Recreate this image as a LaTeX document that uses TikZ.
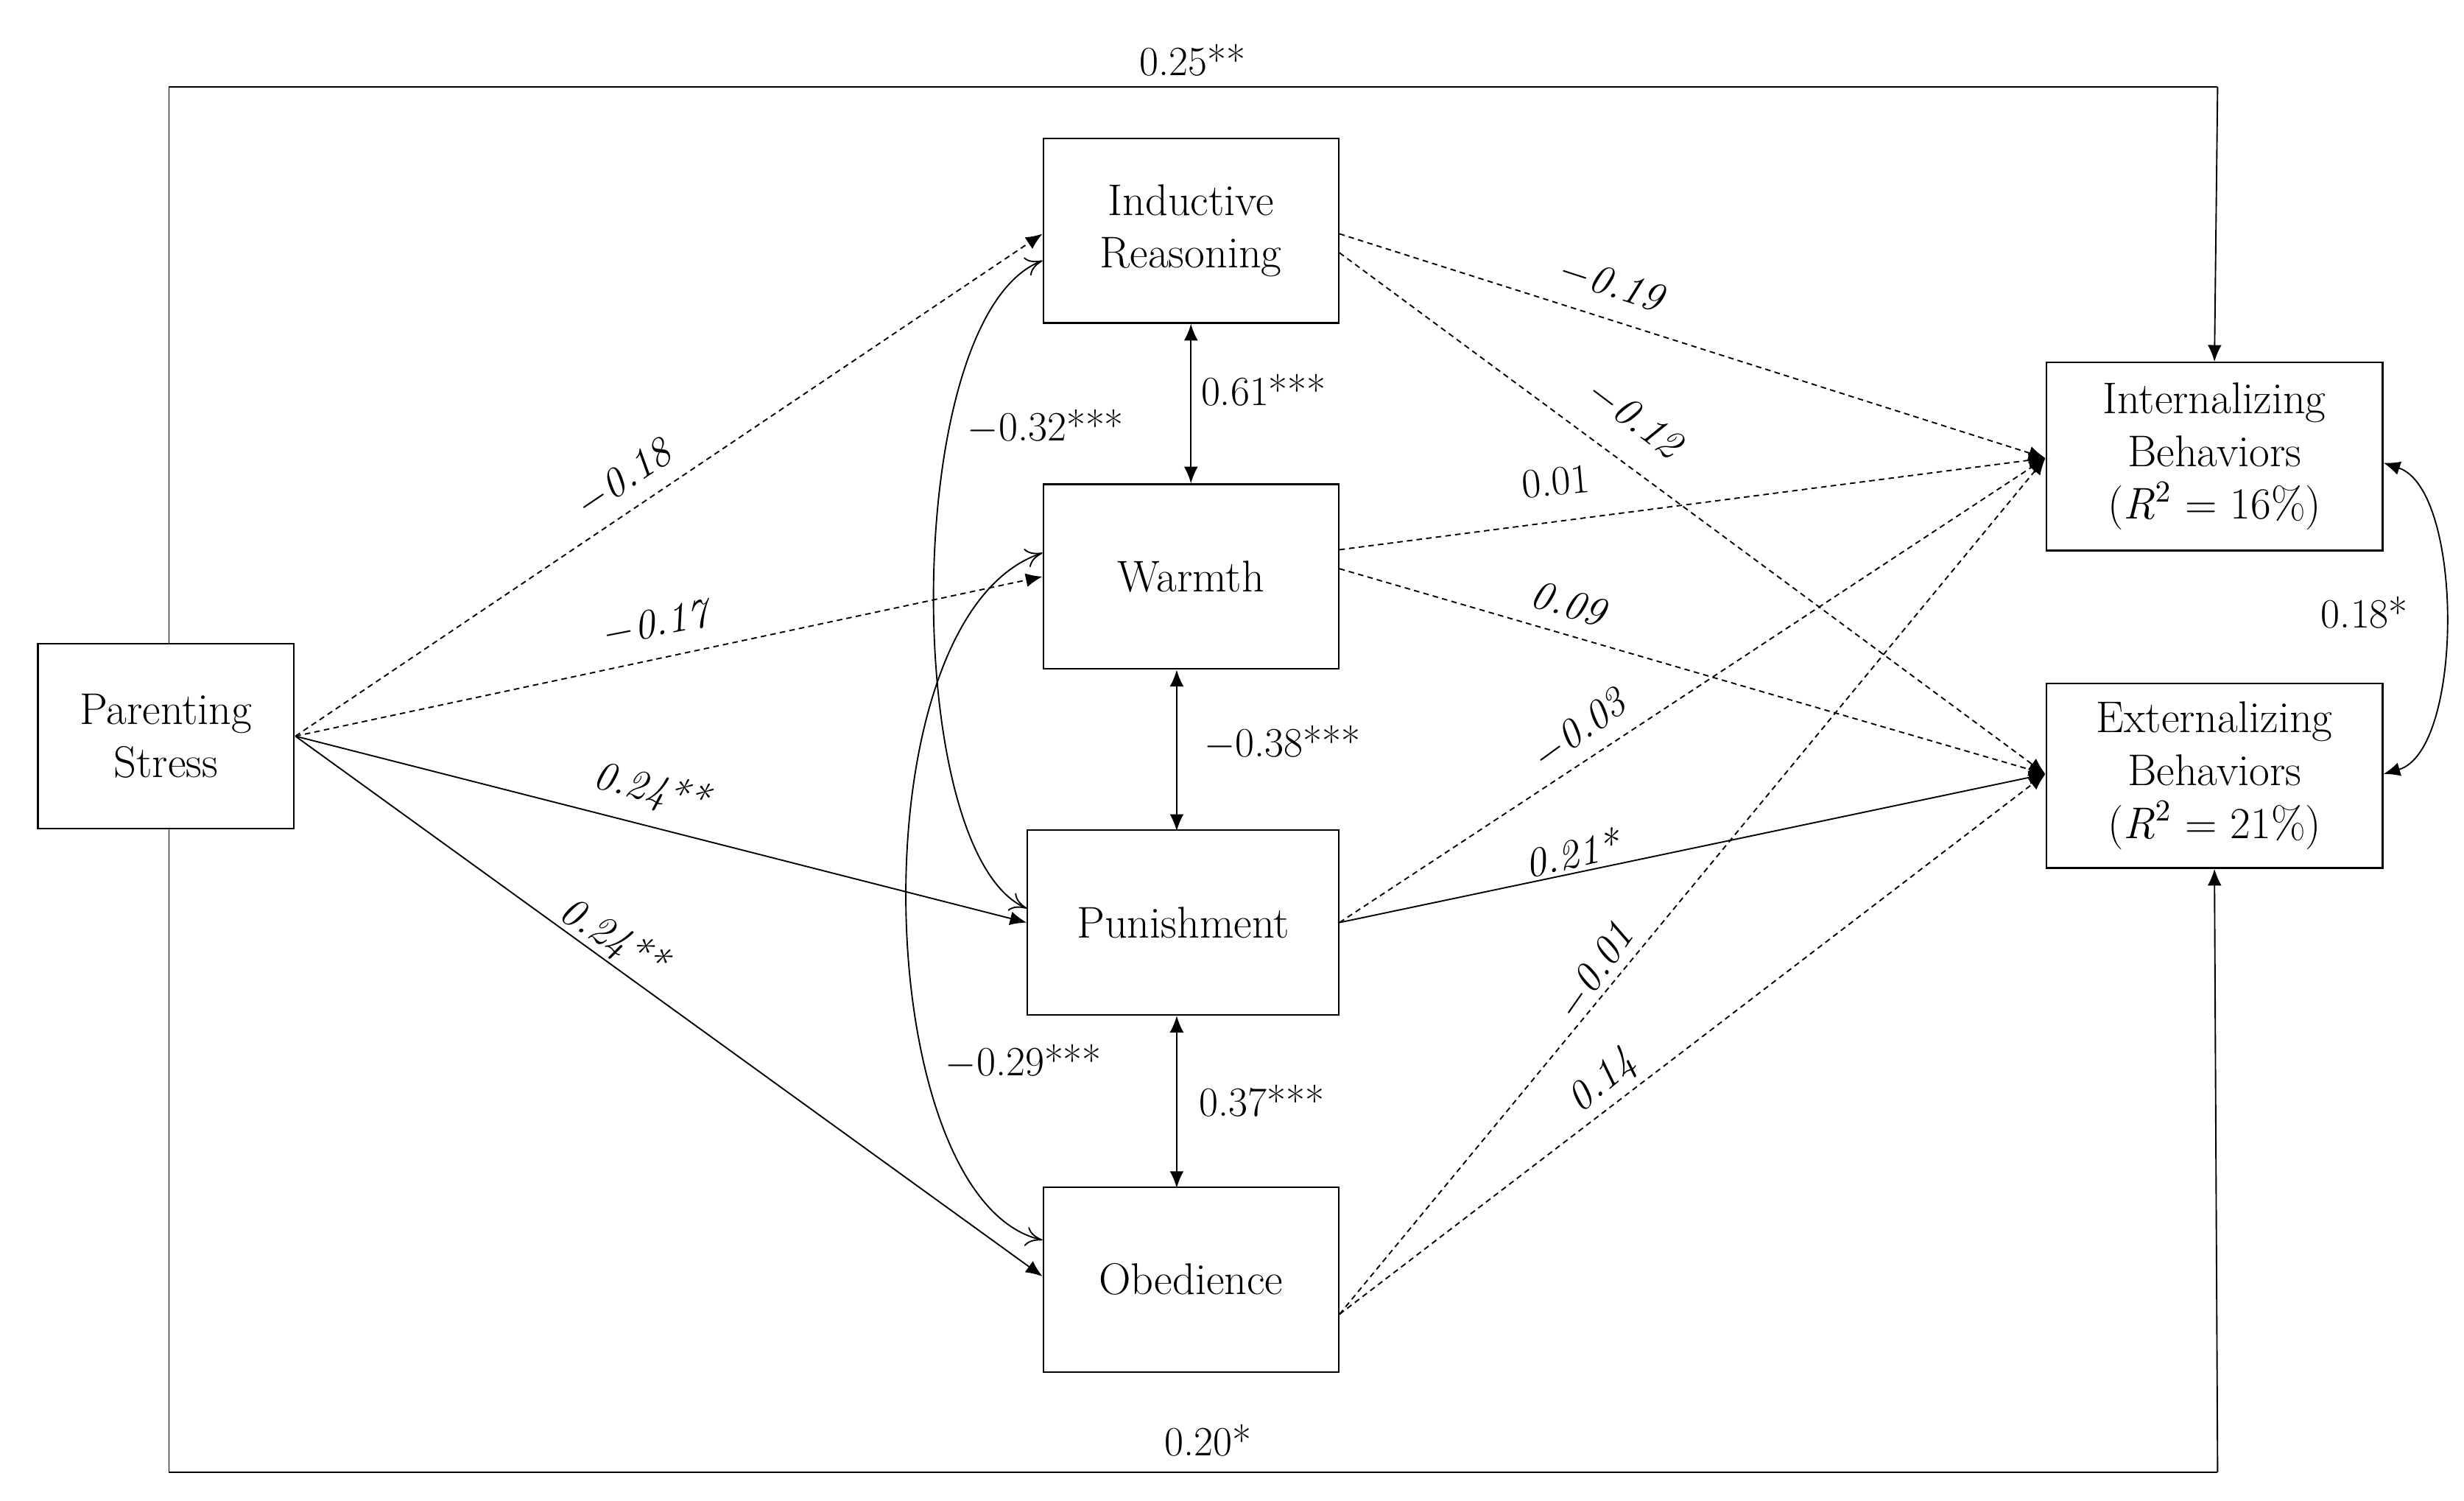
\documentclass[tikz,border=0pt]{standalone}
\usetikzlibrary{arrows.meta}
\begin{document}
\begin{tikzpicture}[x=0.02cm,y=-0.02cm,
  box/.style={draw,line width=0.6pt,minimum width=3.74cm,minimum height=2.34cm,align=center,font=\fontsize{16}{19}\selectfont,fill=white,inner sep=1pt},
  lab/.style={font=\fontsize{15}{17}\selectfont},
  ilab/.style={font=\fontsize{15}{17}\selectfont\itshape},
  ln/.style={line width=0.5pt},
  dsh/.style={line width=0.5pt,dash pattern=on 2pt off 1.5pt},
  tip/.style={-{Latex[length=6pt,width=5pt]}},
  dtip/.style={{Latex[length=6pt,width=5pt]}-{Latex[length=6pt,width=5pt]}},
  otip/.style={{To[length=6pt,width=7pt]}-{To[length=6pt,width=7pt]}}]
\useasboundingbox (0,0) rectangle (1560,950);
\coordinate (tl) at (107,55); \coordinate (tr) at (1404,55);
\coordinate (bl) at (107,932); \coordinate (br) at (1404,932);
\node[box,minimum width=3.24cm] (ps) at (105,466) {Parenting\\Stress};
\node[box] (ir) at (754,146) {Inductive\\Reasoning};
\node[box] (wa) at (754,365) {Warmth};
\node[box,minimum width=3.94cm] (pu) at (749,584) {Punishment};
\node[box] (ob) at (754,810) {Obedience};
\node[box,minimum width=4.26cm,minimum height=2.38cm] (in) at (1402,289) {Internalizing\\Behaviors\\(\textit{R}$^2$ = 16\%)};
\node[box,minimum width=4.26cm,minimum height=2.34cm] (ex) at (1402,491) {Externalizing\\Behaviors\\(\textit{R}$^2$ = 21\%)};
\draw[ln] (ps.north -| tl) -- (tl) -- (tr);
\draw[ln,tip] (tr) -- (in.north);
\draw[ln] (ps.south -| bl) -- (bl) -- (br);
\draw[ln,tip] (br) -- (ex.south);
\node[lab] at (755,38) {0.25**};
\node[lab] at (765,912) {0.20*};
\coordinate (psr) at (187,466);
\draw[dsh,tip] (psr) -- (660,148);
\draw[dsh,tip] (psr) -- (660,365);
\draw[ln,tip] (psr) -- (650,584);
\draw[ln,tip] (psr) -- (660,808);
\node[ilab,rotate=34] at (395,303) {$-$0.18};
\node[ilab,rotate=11] at (415,395) {$-$0.17};
\node[ilab,rotate=-14] at (412,500) {0.24**};
\node[ilab,rotate=-31] at (388,594) {0.24**};
\draw[ln,dtip] (ir.south) -- (wa.north);
\draw[ln,dtip] (745,424) -- (745,526);
\draw[ln,dtip] (745,643) -- (745,752);
\node[lab] at (800,247) {0.61***};
\node[lab] at (812,470) {$-$0.38***};
\node[lab] at (799,697) {0.37***};
\draw[ln,otip] (660,165) .. controls (570,200) and (570,540) .. (650,575);
\draw[ln,otip] (660,350) .. controls (540,390) and (550,760) .. (660,785);
\node[lab] at (662,270) {$-$0.32***};
\node[lab] at (648,672) {$-$0.29***};
\coordinate (inw) at (1295,290); \coordinate (exw) at (1295,490);
\draw[dsh,tip] (848,148) -- (inw);
\draw[dsh,tip] (848,160) -- (exw);
\draw[dsh,tip] (848,348) -- (inw);
\draw[dsh,tip] (848,360) -- (exw);
\draw[dsh,tip] (848,584) -- (inw);
\draw[ln,tip] (848,584) -- (exw);
\draw[dsh,tip] (848,832) -- (inw);
\draw[dsh,tip] (848,832) -- (exw);
\node[ilab,rotate=-18] at (1020,180) {$-$0.19};
\node[ilab,rotate=-37] at (1035,265) {$-$0.12};
\node[lab,rotate=5] at (985,305) {0.01};
\node[ilab,rotate=-16] at (993,382) {0.09};
\node[ilab,rotate=36] at (1000,462) {$-$0.03};
\node[ilab,rotate=13] at (995,540) {0.21*};
\node[ilab,rotate=55] at (1010,615) {$-$0.01};
\node[ilab,rotate=40] at (1015,685) {0.14};
\draw[ln,dtip] (1509,293) .. controls (1560,310) and (1560,475) .. (1509,490);
\node[lab] at (1497,388) {0.18*};
\end{tikzpicture}
\end{document}
